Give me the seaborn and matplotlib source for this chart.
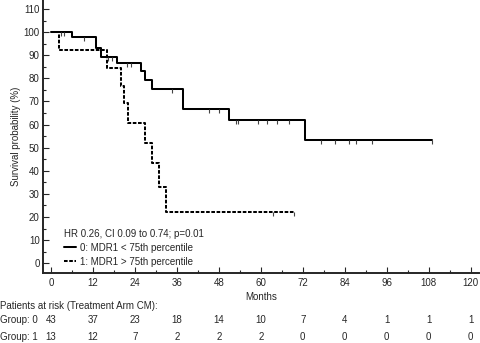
import numpy as np
import pandas as pd
import matplotlib
matplotlib.use("Agg")
import matplotlib.pyplot as plt
import matplotlib.transforms as mtransforms
from matplotlib.lines import Line2D
import seaborn as sns

# Kaplan-Meier steps (months, survival %)
low_months = [0, 6, 13, 14.3, 18.8, 25.7, 27, 28.8, 37.7, 50.9, 72.6, 109]
low_surv = [100, 97.7, 93.0, 89.4, 86.6, 83.0, 79.2, 75.2, 66.7, 61.8, 53.2, 53.2]
high_months = [0, 2.4, 16, 20, 21, 22, 27, 28.9, 30.8, 32.8, 69.4]
high_surv = [100, 92.3, 84.6, 76.9, 69.2, 60.8, 52.2, 43.5, 32.8, 22.0, 22.0]

# censored observations
low_censor = [3.0, 3.8, 9.4, 16.4, 17.6, 21.8, 23.0, 34.5, 45.2, 48.0, 52.9, 53.4,
              59.2, 61.8, 64.5, 68.0, 77.3, 81.3, 85.2, 87.3, 91.9, 109]
high_censor = [63.5, 69.4]

group_labels = ["0: MDR1 < 75th percentile", "1: MDR1 > 75th percentile"]
hr_text = "HR 0.26, CI 0.09 to 0.74; p=0.01"

risk_months = [0, 12, 24, 36, 48, 60, 72, 84, 96, 108, 120]
risk_low = [43, 37, 23, 18, 14, 10, 7, 4, 1, 1, 1]
risk_high = [13, 12, 7, 2, 2, 2, 0, 0, 0, 0, 0]

sns.set_style("ticks")
plt.rcParams["font.family"] = ["Liberation Sans", "DejaVu Sans"]


def step_value(months, surv, t):
    idx = np.searchsorted(months, t, side="right") - 1
    return np.asarray(surv)[idx]


df = pd.concat([
    pd.DataFrame({"month": low_months, "surv": low_surv, "group": group_labels[0]}),
    pd.DataFrame({"month": high_months, "surv": high_surv, "group": group_labels[1]}),
])

fig = plt.figure(figsize=(4.8, 3.43), dpi=100)
ax = fig.add_axes([0.090, 0.205, 0.908, 0.795])

dash = (1.8, 0.8)
sns.lineplot(data=df, x="month", y="surv", style="group", color="black",
             dashes={group_labels[0]: "", group_labels[1]: dash},
             drawstyle="steps-post", estimator=None, sort=False,
             linewidth=1.45, legend=False, ax=ax)

# censor ticks hanging below the curve
for cens, months, surv in [(low_censor, low_months, low_surv),
                           (high_censor, high_months, high_surv)]:
    y = step_value(months, surv, np.array(cens))
    ax.vlines(cens, y - 1.7, y, color="#444444", linewidth=0.8)

ax.set_xlim(-2.2, 122.4)
ax.set_ylim(-4.1, 113.9)
ax.set_xticks(risk_months)
ax.set_xticks(np.arange(6, 120, 12), minor=True)
ax.set_yticks(np.arange(0, 111, 10))
ax.set_yticks(np.arange(5, 111, 10), minor=True)
ax.tick_params(axis="both", which="major", direction="in", length=4.5, width=0.8,
               labelsize=7, pad=2.5)
ax.tick_params(axis="both", which="minor", direction="in", length=2.5, width=0.8)
ax.tick_params(axis="x", which="major", pad=3.5)
for side in ["left", "bottom"]:
    ax.spines[side].set_linewidth(1.4)
sns.despine(ax=ax)

ax.set_xlabel("Months", fontsize=7, labelpad=3)
ax.set_ylabel("Survival probability (%)", fontsize=7, labelpad=2)

handles = [Line2D([], [], color="black", linewidth=1.45),
           Line2D([], [], color="black", linewidth=1.45, dashes=dash)]
leg = ax.legend(handles, group_labels, title=hr_text, loc="upper left",
                bbox_to_anchor=(64 / 480, 0.333), bbox_transform=fig.transFigure,
                frameon=False, fontsize=7, title_fontsize=7, alignment="left",
                handlelength=1.2, handletextpad=0.4, labelspacing=0.4,
                borderpad=0, borderaxespad=0)

# patients at risk table
fig.text(0.0, 1 - 305.7 / 343, "Patients at risk (Treatment Arm CM):", fontsize=7,
         va="center", ha="left")
trans = mtransforms.blended_transform_factory(ax.transData, fig.transFigure)
for label, counts, ypx in [("Group: 0", risk_low, 320), ("Group: 1", risk_high, 336.5)]:
    yf = 1 - ypx / 343
    fig.text(0.0, yf, label, fontsize=7, va="center", ha="left")
    for m, c in zip(risk_months, counts):
        ax.text(m, yf, str(c), transform=trans, fontsize=7, va="center", ha="center",
                clip_on=False)

fig.savefig("out.png", dpi=100)
